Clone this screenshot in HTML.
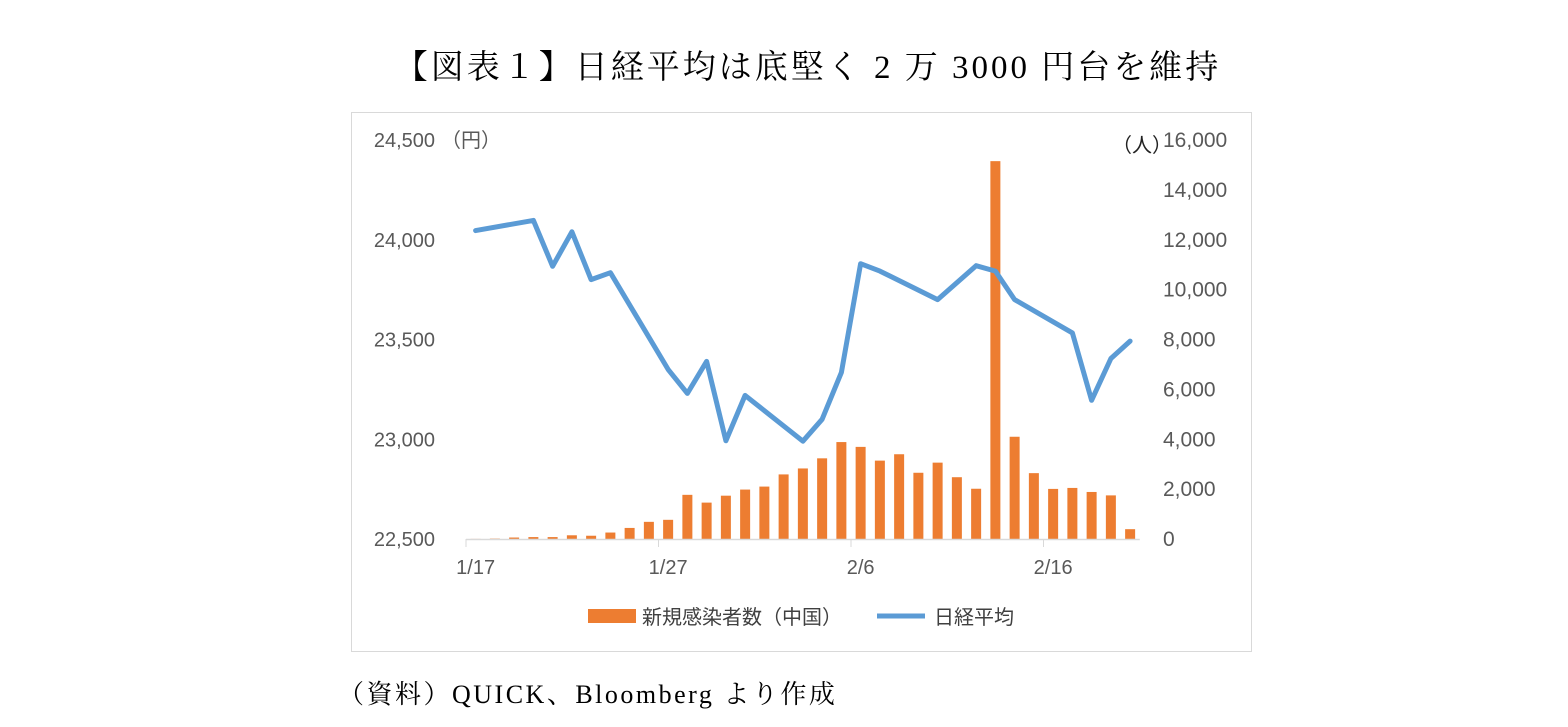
<!DOCTYPE html>
<html><head><meta charset="utf-8"><style>
body{margin:0;background:#fff;width:1568px;height:727px;overflow:hidden;position:relative}
.serif{font-family:"Liberation Serif","Noto Serif CJK SC","Noto Sans CJK JP",serif}
</style></head><body>
<div class="serif" style="position:absolute;left:0;width:1616px;top:41px;text-align:center;font-size:33px;letter-spacing:3px;color:#000">【図表１】日経平均は底堅く 2 万 3000 円台を維持</div>
<div class="serif" style="position:absolute;left:338px;top:674px;font-size:26px;letter-spacing:2.5px;color:#000">（資料）QUICK、Bloomberg より作成</div>
<svg id="c" width="1568" height="727" style="position:absolute;left:0;top:0" font-family="Liberation Sans, Noto Sans CJK JP, sans-serif">
<rect x="351.5" y="112.5" width="900" height="539" fill="none" stroke="#d9d9d9"/>
</svg>
<script>
const categories=["1/17","1/18","1/19","1/20","1/21","1/22","1/23","1/24","1/25","1/26","1/27","1/28","1/29","1/30","1/31","2/1","2/2","2/3","2/4","2/5","2/6","2/7","2/8","2/9","2/10","2/11","2/12","2/13","2/14","2/15","2/16","2/17","2/18","2/19","2/20"];
const cases=[4,17,59,77,77,149,131,259,444,688,769,1771,1459,1737,1982,2102,2590,2829,3235,3887,3694,3143,3399,2656,3062,2478,2015,15152,4100,2641,2009,2048,1886,1749,394];
const nikkeiIdx=[0,3,4,5,6,7,10,11,12,13,14,17,18,19,20,21,24,26,27,28,31,32,33,34];
const nikkei=[24046,24097,23867,24040,23800,23835,23350,23230,23390,22992,23220,22990,23100,23335,23880,23843,23700,23870,23843,23700,23533,23195,23405,23492];
const leftTicks=[22500,23000,23500,24000,24500];
const rightTicks=[0,2000,4000,6000,8000,10000,12000,14000,16000];
const xLabels=["1/17","1/27","2/6","2/16"];
const svg=document.getElementById('c');const NS='http://www.w3.org/2000/svg';
function mk(t,a,txt){const e=document.createElementNS(NS,t);for(const k in a)e.setAttribute(k,a[k]);if(txt!=null)e.textContent=txt;svg.appendChild(e);return e;}
const x0=466,pitch=19.25,yB=539,yT=140;
const xC=i=>x0+pitch*(i+0.5);
const yL=v=>yB-(v-22500)/2000*(yB-yT);
const yR=v=>yB-v/16000*(yB-yT);
leftTicks.forEach(v=>{const t=mk('text',{x:435,y:yL(v)+7,'text-anchor':'end','font-size':20,fill:'#595959'},v.toLocaleString('en-US'));
});
rightTicks.forEach(v=>{const t=mk('text',{x:1163,y:yR(v)+7,'font-size':21,fill:'#595959'},v.toLocaleString('en-US'));
});
let u=mk('text',{x:441,y:147,'font-size':20,fill:'#595959'},'（円）');
u=mk('text',{x:1112,y:152,'font-size':20,fill:'#222'},'（人）');
cases.forEach((v,i)=>{const r=mk('rect',{x:xC(i)-5,y:yR(v),width:10,height:yB-yR(v),fill:'#ED7D31'});
});
const ax=mk('line',{x1:x0,y1:yB+0.5,x2:x0+pitch*categories.length,y2:yB+0.5,stroke:'#d9d9d9','stroke-width':1.5});

for(let i=0;i<=categories.length;i+=10){const t=mk('line',{x1:x0+pitch*i,y1:yB,x2:x0+pitch*i,y2:yB+8,stroke:'#d9d9d9'});
}
xLabels.forEach(l=>{const i=categories.indexOf(l);const t=mk('text',{x:xC(i),y:574,'text-anchor':'middle','font-size':20,fill:'#595959'},l);
});
const pts=nikkei.map((v,k)=>xC(nikkeiIdx[k]).toFixed(1)+','+yL(v).toFixed(1)).join(' ');
const pl=mk('polyline',{points:pts,fill:'none',stroke:'#5B9BD5','stroke-width':5,'stroke-linejoin':'round','stroke-linecap':'round'});

let g=mk('rect',{x:588,y:609,width:48,height:14,fill:'#ED7D31'});
g=mk('text',{x:642,y:624,'font-size':20,fill:'#404040'},'新規感染者数（中国）');
g=mk('line',{x1:877,y1:616,x2:925,y2:616,stroke:'#5B9BD5','stroke-width':5});
g=mk('text',{x:934,y:624,'font-size':20,fill:'#404040'},'日経平均');
</script>
</body></html>
